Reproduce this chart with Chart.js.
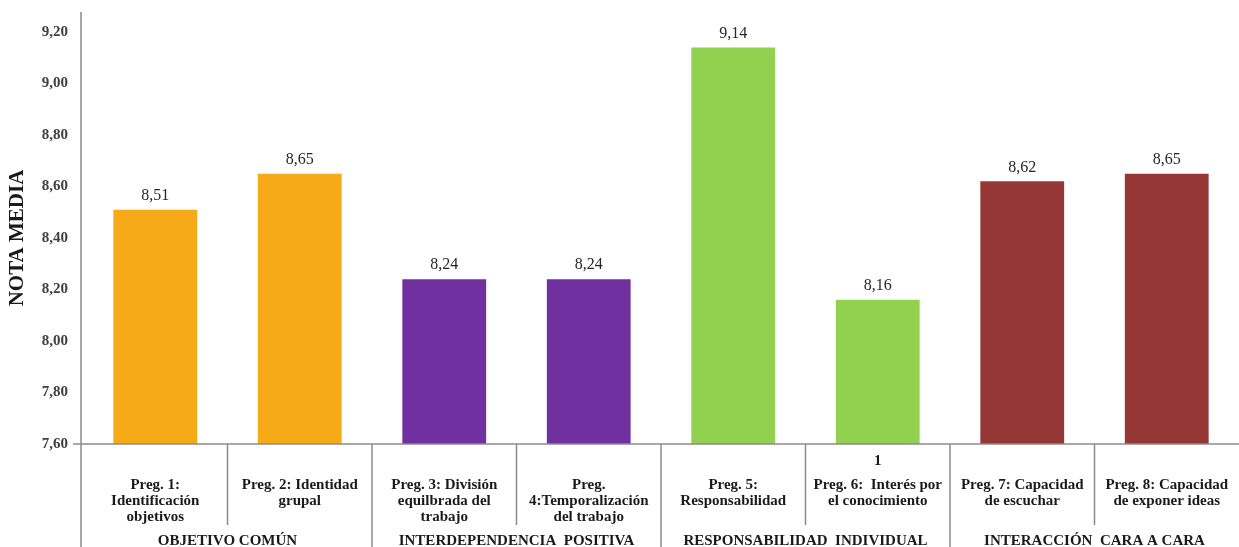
<!DOCTYPE html>
<html>
<head>
<meta charset="utf-8">
<script src="https://cdn.jsdelivr.net/npm/chart.js@4.4.1/dist/chart.umd.min.js"></script>
<style>
  html, body { margin: 0; padding: 0; background: #fff; }
  #wrap { width: 1239px; height: 547px; }
</style>
</head>
<body>
<div id="wrap"><canvas id="notaChart"></canvas></div>
<script>
const preguntas = [
  ['Preg. 1:', 'Identificación', 'objetivos'],
  ['Preg. 2: Identidad', 'grupal'],
  ['Preg. 3: División', 'equilbrada del', 'trabajo'],
  ['Preg.', '4:Temporalización', 'del trabajo'],
  ['Preg. 5:', 'Responsabilidad'],
  ['Preg. 6:  Interés por', 'el conocimiento'],
  ['Preg. 7: Capacidad', 'de escuchar'],
  ['Preg. 8: Capacidad', 'de exponer ideas']
];
const notas = [8.51, 8.65, 8.24, 8.24, 9.14, 8.16, 8.62, 8.65];
const grupos = ['OBJETIVO COMÚN', 'INTERDEPENDENCIA  POSITIVA', 'RESPONSABILIDAD  INDIVIDUAL', 'INTERACCIÓN  CARA A CARA'];
const colores = ['#F6AA18', '#F6AA18', '#7030A0', '#7030A0', '#92D050', '#92D050', '#953735', '#953735'];

const serif = "'Liberation Serif', 'DejaVu Serif', serif";
const lineColor = '#8C8C8C';
const fmt = v => v.toFixed(2).replace('.', ',');

// etiquetas de valor, ejes de categorías y separadores
const decoPlugin = {
  id: 'deco',
  afterDatasetsDraw(chart) {
    const ctx = chart.ctx;
    const xs = chart.scales.x;
    const area = chart.chartArea;
    const meta = chart.getDatasetMeta(0);
    ctx.save();

    // valores encima de las barras
    ctx.fillStyle = '#262626';
    ctx.font = '16px ' + serif;
    ctx.textAlign = 'center';
    ctx.textBaseline = 'bottom';
    meta.data.forEach((bar, i) => {
      ctx.fillText(fmt(notas[i]), bar.x, bar.y - 6);
    });

    // líneas del eje
    const H = chart.height;
    const step = xs.getPixelForValue(1) - xs.getPixelForValue(0);
    const axisX = area.left - 2;
    ctx.strokeStyle = lineColor;
    ctx.lineWidth = 1.5;
    ctx.beginPath();
    ctx.moveTo(axisX, 12);
    ctx.lineTo(axisX, H);
    ctx.moveTo(axisX - 8, area.bottom);
    ctx.lineTo(area.right, area.bottom);
    for (let i = 1; i < notas.length; i++) {
      const x = xs.getPixelForValue(i) - step / 2;
      ctx.moveTo(x, area.bottom);
      ctx.lineTo(x, i % 2 === 0 ? H : area.bottom + 81);
    }
    ctx.stroke();

    // etiquetas de preguntas
    ctx.fillStyle = '#1A1A1A';
    ctx.font = 'bold 15px ' + serif;
    ctx.textBaseline = 'middle';
    preguntas.forEach((lines, i) => {
      const x = xs.getPixelForValue(i);
      lines.forEach((t, j) => ctx.fillText(t, x, area.bottom + 41 + j * 16));
    });
    ctx.fillText('1', xs.getPixelForValue(5), area.bottom + 17);

    // etiquetas de grupo
    grupos.forEach((g, k) => {
      const x = (xs.getPixelForValue(2 * k) + xs.getPixelForValue(2 * k + 1)) / 2;
      ctx.fillText(g, x, area.bottom + 97);
    });
    ctx.restore();
  }
};

const ctx = document.getElementById('notaChart').getContext('2d');
new Chart(ctx, {
  type: 'bar',
  data: {
    labels: preguntas.map(p => p.join(' ')),
    datasets: [{
      data: notas,
      backgroundColor: colores,
      categoryPercentage: 1,
      barPercentage: 0.58
    }]
  },
  options: {
    responsive: true,
    maintainAspectRatio: false,
    animation: false,
    layout: { padding: { top: 32, right: 0, left: 0, bottom: 0 } },
    plugins: {
      legend: { display: false },
      tooltip: { enabled: false }
    },
    scales: {
      x: {
        grid: { display: false, drawTicks: false },
        border: { display: false },
        ticks: { display: false },
        afterFit: s => { s.height = 103; }
      },
      y: {
        min: 7.6,
        max: 9.2,
        grid: { display: false, drawTicks: false },
        border: { display: false },
        ticks: {
          stepSize: 0.2,
          padding: 15,
          color: '#404040',
          font: { family: serif, size: 15, weight: 'bold' },
          callback: v => fmt(v)
        },
        title: {
          display: true,
          text: 'NOTA MEDIA',
          color: '#1A1A1A',
          font: { family: serif, size: 21, weight: 'bold' },
          padding: { top: 5, bottom: 0 }
        },
        afterFit: s => { s.width = 83; }
      }
    }
  },
  plugins: [decoPlugin]
});
</script>
</body>
</html>
